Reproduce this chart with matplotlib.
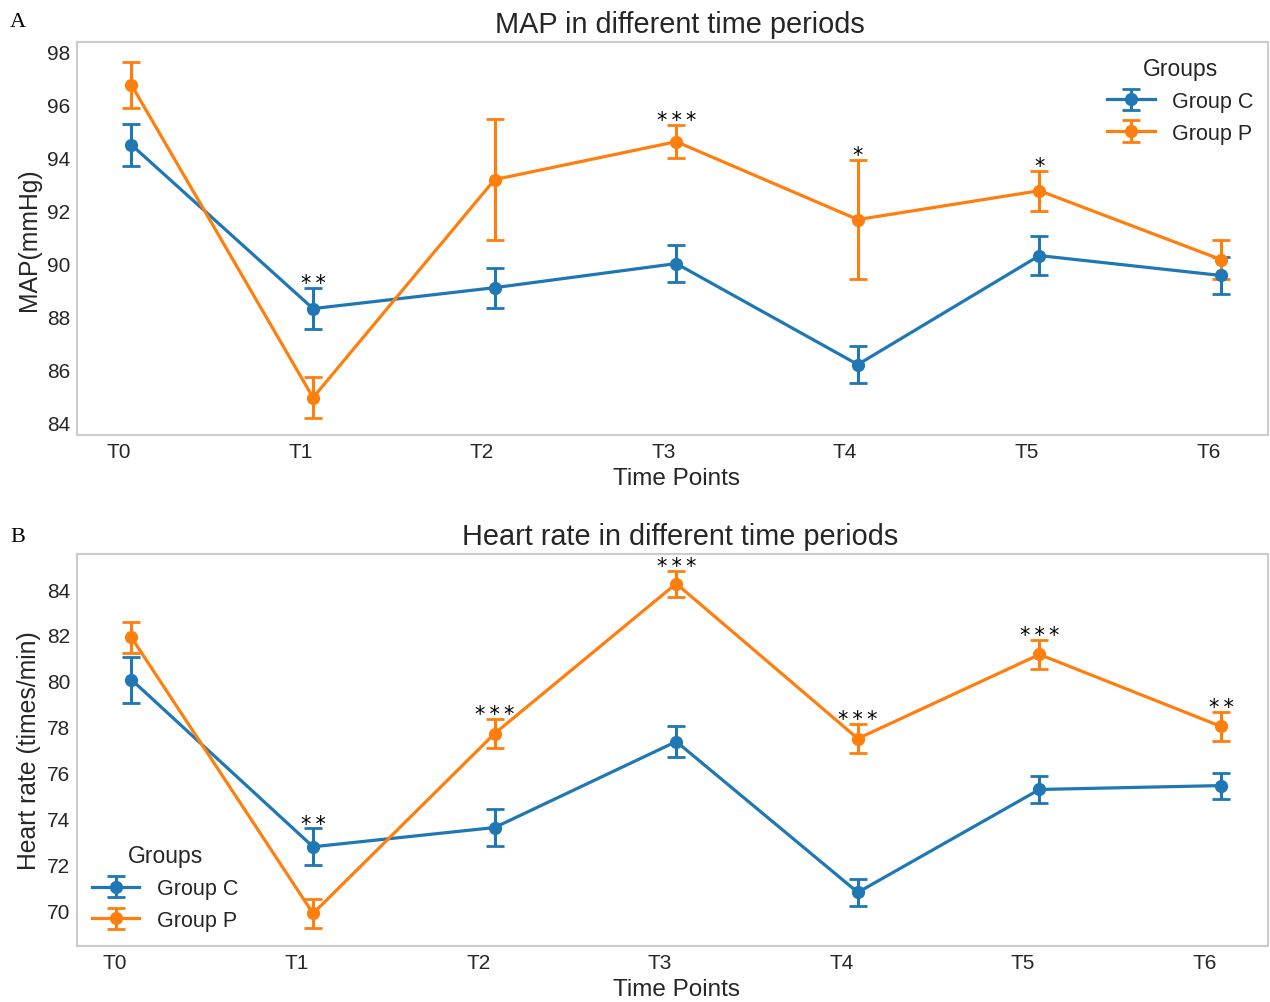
import matplotlib
matplotlib.use('Agg')
import matplotlib.pyplot as plt
import numpy as np

# time points
time_points = ["T0", "T1", "T2", "T3", "T4", "T5", "T6"]

# MAP (mmHg) mean and error
map_c = [94.46, 88.28, 89.07, 89.98, 86.17, 90.28, 89.53]
map_c_err = [0.80, 0.78, 0.75, 0.70, 0.70, 0.75, 0.70]
map_p = [96.72, 84.92, 93.15, 94.58, 91.64, 92.73, 90.13]
map_p_err = [0.88, 0.78, 2.28, 0.63, 2.26, 0.75, 0.74]
map_sig = ["", "**", "", "***", "*", "*", ""]

# heart rate (times/min) mean and error
hr_c = [80.05, 72.76, 73.60, 77.35, 70.77, 75.26, 75.43]
hr_c_err = [1.00, 0.80, 0.80, 0.68, 0.60, 0.60, 0.57]
hr_p = [81.89, 69.85, 77.70, 84.24, 77.48, 81.15, 78.01]
hr_p_err = [0.68, 0.65, 0.65, 0.57, 0.63, 0.63, 0.63]
hr_sig = ["", "**", "***", "***", "***", "***", "**"]

plt.rcParams['font.family'] = ['Liberation Sans', 'DejaVu Sans']
plt.rcParams['text.color'] = '.15'
plt.rcParams['axes.labelcolor'] = '.15'
plt.rcParams['xtick.color'] = '.15'
plt.rcParams['ytick.color'] = '.15'

BLUE = '#1f77b4'
ORANGE = '#ff7f0e'


def draw_panel(ax, c, c_err, p, p_err, sig, title, ylabel, ylim, yticks,
               legend_loc, tick_shift):
    x = np.arange(len(time_points))
    hc = ax.errorbar(x, c, yerr=c_err, color=BLUE, marker='o', markersize=8.5,
                     lw=2.3, elinewidth=2.2, capsize=6.5, capthick=2, label='Group C')
    hp = ax.errorbar(x, p, yerr=p_err, color=ORANGE, marker='o', markersize=8.5,
                     lw=2.3, elinewidth=2.2, capsize=6.5, capthick=2, label='Group P')

    # significance stars above the higher error bar
    for i, s in enumerate(sig):
        if not s:
            continue
        top = max(c[i] + c_err[i], p[i] + p_err[i])
        ax.annotate("\u2009".join(s), (x[i], top), xytext=(0, 3.5),
                    textcoords='offset points', ha='center', va='center',
                    fontsize=15, color='black', family='DejaVu Sans')

    ax.set_xlim(-0.30, 6.26)
    ax.set_ylim(*ylim)
    ax.set_yticks(yticks)
    ax.set_xticks(x - tick_shift)
    ax.set_xticklabels(time_points)
    ax.tick_params(length=0, labelsize=15, pad=5)
    ax.set_title(title, fontsize=20.8, pad=7, x=0.506)
    ax.set_xlabel("Time Points", fontsize=17.5, labelpad=4, x=0.503)
    ax.set_ylabel(ylabel, fontsize=17.8, labelpad=4)
    for sp in ax.spines.values():
        sp.set_color('#cccccc')
        sp.set_linewidth(1.5)

    leg = ax.legend(handles=[hc, hp], title="Groups", loc=legend_loc,
                    frameon=False, fontsize=15.5, title_fontsize=16.5,
                    handlelength=2.2, borderaxespad=0.3)
    return leg


fig = plt.figure(figsize=(12.7, 10.03), dpi=100)
ax1 = fig.add_axes([0.0606, 0.5653, 0.938, 0.3918])
ax2 = fig.add_axes([0.0606, 0.0558, 0.938, 0.3908])

draw_panel(ax1, map_c, map_c_err, map_p, map_p_err, map_sig,
           "MAP in different time periods", "MAP(mmHg)",
           (83.51, 98.34), [84, 86, 88, 90, 92, 94, 96, 98], 'upper right', 0.07)
draw_panel(ax2, hr_c, hr_c_err, hr_p, hr_p_err, hr_sig,
           "Heart rate in different time periods", "Heart rate (times/min)",
           (68.43, 85.53), [70, 72, 74, 76, 78, 80, 82, 84], 'lower left', 0.09)

fig.text(0.008, 0.978, "A", family='Liberation Serif', fontsize=16, va='center',
         color='black')
fig.text(0.008, 0.464, "B", family='Liberation Serif', fontsize=16, va='center',
         color='black')

plt.savefig("out.png", dpi=100)
plt.close()
